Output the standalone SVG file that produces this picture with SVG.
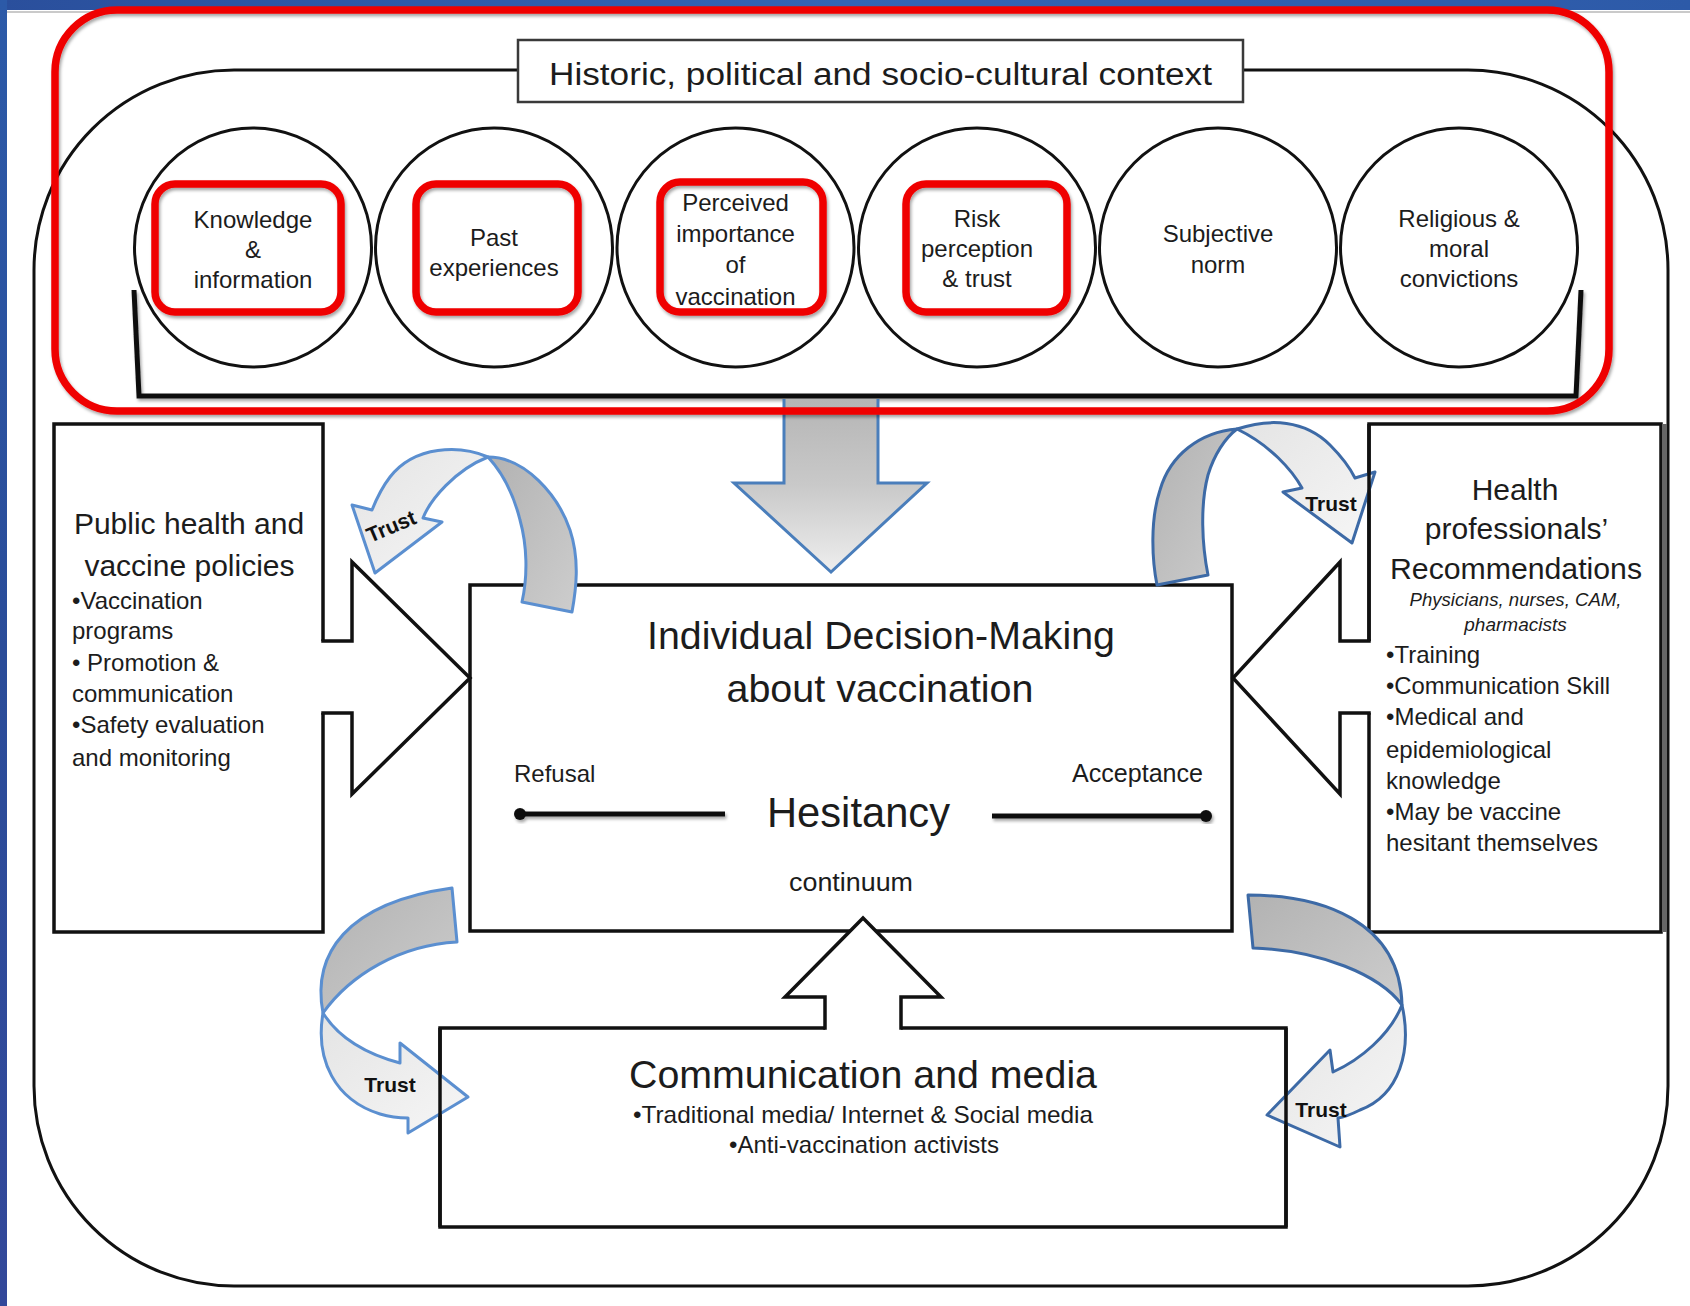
<svg xmlns="http://www.w3.org/2000/svg" width="1690" height="1306" viewBox="0 0 1690 1306">
<defs>
<style>
.t{font-family:'Liberation Sans',Arial,Helvetica,sans-serif;fill:#1c1c1c}
.m{text-anchor:middle}
.s24{font-size:24px}
.s30{font-size:30px}
.s39{font-size:39px}
.box{fill:#fff;stroke:#111;stroke-width:3.5}
.edge{fill:none;stroke:#111;stroke-width:3.5}
.circ{fill:#fff;stroke:#111;stroke-width:3}
.hl{fill:none;stroke:#ef0000;stroke-width:7.5;filter:url(#sh)}
.blk{fill:none;stroke:#111;stroke-width:3.5;stroke-linejoin:miter;stroke-linecap:square}
.wf{fill:#fff;stroke:none}
.trA{stroke:#5b8fd0;stroke-width:3;stroke-linejoin:round}
.trB{stroke:#3d6aa6;stroke-width:3;stroke-linejoin:round}
.dk{fill:url(#gDark)}
.lt{fill:url(#gLight)}
.trust{font-family:'Liberation Sans',Arial,Helvetica,sans-serif;font-weight:bold;font-size:21px;fill:#111;text-anchor:middle}
</style>
<linearGradient id="gDark" x1="0" y1="0" x2="1" y2="1">
<stop offset="0" stop-color="#b2b2b2"/><stop offset="1" stop-color="#cdcdcd"/>
</linearGradient>
<linearGradient id="gLight" x1="0" y1="0" x2="1" y2="1">
<stop offset="0" stop-color="#e4e4e4"/><stop offset="1" stop-color="#f6f6f6"/>
</linearGradient>
<linearGradient id="gDown" x1="0" y1="0" x2="0" y2="1">
<stop offset="0" stop-color="#b5b5b5"/><stop offset="0.5" stop-color="#c9c9c9"/><stop offset="1" stop-color="#eeeeee"/>
</linearGradient>
<linearGradient id="gBandH" x1="0" y1="0" x2="1" y2="0">
<stop offset="0" stop-color="#2a4f9c"/><stop offset="0.5" stop-color="#3465b5"/><stop offset="1" stop-color="#2d5aa8"/>
</linearGradient>
<linearGradient id="gBandV" x1="0" y1="0" x2="0" y2="1">
<stop offset="0" stop-color="#2c5aa8"/><stop offset="0.5" stop-color="#2a4c99"/><stop offset="1" stop-color="#33489a"/>
</linearGradient>
<filter id="sh" x="-5%" y="-5%" width="110%" height="115%">
<feDropShadow dx="1.5" dy="2.5" stdDeviation="1.5" flood-color="#000" flood-opacity="0.35"/>
</filter>
</defs>

<g id="background">
<rect x="0" y="0" width="1690" height="1306" fill="#fff"/>
<rect x="0" y="0" width="1690" height="10" fill="url(#gBandH)"/>
<rect x="0" y="0" width="7" height="1306" fill="url(#gBandV)"/>
<line x1="7" y1="12" x2="1690" y2="12" stroke="#b8b8b8" stroke-width="1.5"/>
</g>

<g id="context-frame">
<rect x="34" y="70" width="1634" height="1216" rx="200" ry="200" fill="none" stroke="#111" stroke-width="3"/>
</g>

<g id="context-title">
<rect x="518" y="40" width="725" height="62" fill="#fff" stroke="#3a3a3a" stroke-width="2.5"/>
<text class="t m" x="880.5" y="85" font-size="31" textLength="663" lengthAdjust="spacingAndGlyphs">Historic, political and socio-cultural context</text>
</g>

<g id="factor-knowledge">
<ellipse class="circ" cx="253" cy="247.5" rx="118.5" ry="119.5"/>
<text class="t m s24" x="253" y="228">Knowledge</text>
<text class="t m s24" x="253" y="258">&amp;</text>
<text class="t m s24" x="253" y="288">information</text>
</g>
<g id="factor-past">
<ellipse class="circ" cx="494" cy="247.5" rx="118.5" ry="119.5"/>
<text class="t m s24" x="494" y="246">Past</text>
<text class="t m s24" x="494" y="276">experiences</text>
</g>
<g id="factor-importance">
<ellipse class="circ" cx="735.5" cy="247.5" rx="118.5" ry="119.5"/>
<text class="t m s24" x="735.5" y="211">Perceived</text>
<text class="t m s24" x="735.5" y="241.5">importance</text>
<text class="t m s24" x="735.5" y="272.5">of</text>
<text class="t m s24" x="735.5" y="304.5">vaccination</text>
</g>
<g id="factor-risk">
<ellipse class="circ" cx="977" cy="247.5" rx="118.5" ry="119.5"/>
<text class="t m s24" x="977" y="227">Risk</text>
<text class="t m s24" x="977" y="257">perception</text>
<text class="t m s24" x="977" y="287">&amp; trust</text>
</g>
<g id="factor-norm">
<ellipse class="circ" cx="1218" cy="247.5" rx="118.5" ry="119.5"/>
<text class="t m s24" x="1218" y="242">Subjective</text>
<text class="t m s24" x="1218" y="272.5">norm</text>
</g>
<g id="factor-religious">
<ellipse class="circ" cx="1459" cy="247.5" rx="118.5" ry="119.5"/>
<text class="t m s24" x="1459" y="227">Religious &amp;</text>
<text class="t m s24" x="1459" y="257">moral</text>
<text class="t m s24" x="1459" y="287">convictions</text>
</g>

<g id="context-bracket">
<path d="M134,290 L139,396 L1576,396 L1581,290" fill="none" stroke="#111" stroke-width="5" filter="url(#sh)"/>
</g>

<g id="policies">
<rect class="box" x="54" y="424" width="269" height="508"/>
<text class="t m s30" x="189" y="534">Public health and</text>
<text class="t m s30" x="189.5" y="576">vaccine policies</text>
<text class="t s24" x="72" y="609">•Vaccination</text>
<text class="t s24" x="72" y="639">programs</text>
<text class="t s24" x="72" y="671">• Promotion &amp;</text>
<text class="t s24" x="72" y="702">communication</text>
<text class="t s24" x="72" y="733">•Safety evaluation</text>
<text class="t s24" x="72" y="766">and monitoring</text>
</g>

<g id="professionals">
<rect class="box" x="1369" y="424" width="292" height="508"/>
<rect x="1662" y="424" width="5" height="508" fill="#666"/>
<text class="t m s30" x="1515" y="500">Health</text>
<text class="t m s30" x="1516.5" y="539">professionals’</text>
<text class="t m s30" x="1516" y="579" textLength="252" lengthAdjust="spacingAndGlyphs">Recommendations</text>
<text class="t m" x="1515.5" y="606" font-size="19" font-style="italic" textLength="212" lengthAdjust="spacingAndGlyphs">Physicians, nurses, CAM,</text>
<text class="t m" x="1515.5" y="631" font-size="19" font-style="italic">pharmacists</text>
<text class="t s24" x="1386" y="663">•Training</text>
<text class="t s24" x="1386" y="694" textLength="224" lengthAdjust="spacingAndGlyphs">•Communication Skill</text>
<text class="t s24" x="1386" y="725">•Medical and</text>
<text class="t s24" x="1386" y="758">epidemiological</text>
<text class="t s24" x="1386" y="789">knowledge</text>
<text class="t s24" x="1386" y="820">•May be vaccine</text>
<text class="t s24" x="1386" y="851">hesitant themselves</text>
</g>

<g id="decision">
<rect class="box" x="470" y="585" width="762" height="346"/>
<text class="t m s39" x="881" y="649" textLength="468" lengthAdjust="spacingAndGlyphs">Individual Decision-Making</text>
<text class="t m s39" x="880" y="702" textLength="307" lengthAdjust="spacingAndGlyphs">about vaccination</text>
<text class="t s24" x="514" y="782">Refusal</text>
<text class="t" x="1072" y="782" font-size="25" textLength="131" lengthAdjust="spacingAndGlyphs">Acceptance</text>
<text class="t m" x="858.5" y="827" font-size="42" textLength="183" lengthAdjust="spacingAndGlyphs">Hesitancy</text>
<text class="t m" x="851" y="891" font-size="26" textLength="124" lengthAdjust="spacingAndGlyphs">continuum</text>
<g filter="url(#sh)">
<line x1="520" y1="814" x2="725" y2="814" stroke="#111" stroke-width="5"/>
<circle cx="520" cy="814" r="6" fill="#111"/>
<line x1="992" y1="816" x2="1206" y2="816" stroke="#111" stroke-width="5"/>
<circle cx="1206" cy="816" r="6" fill="#111"/>
</g>
</g>

<g id="media">
<rect class="box" x="440" y="1028" width="846" height="199"/>
<text class="t m s39" x="863" y="1088" textLength="468" lengthAdjust="spacingAndGlyphs">Communication and media</text>
<text class="t s24" x="633" y="1123" textLength="460" lengthAdjust="spacingAndGlyphs">•Traditional media/ Internet &amp; Social media</text>
<text class="t s24" x="729" y="1153" textLength="270" lengthAdjust="spacingAndGlyphs">•Anti-vaccination activists</text>
</g>

<g id="connectors">
<!-- context influences decision (down arrow) -->
<path d="M784,399 L784,483 L734,483 L831,572 L927,483 L878,483 L878,399" fill="url(#gDown)" stroke="#4a7ebb" stroke-width="3" stroke-linejoin="miter"/>
<!-- policies to decision -->
<path class="wf" d="M319,641 L352,641 L352,562 L470,678 L352,794 L352,713 L319,713 Z"/>
<path class="blk" d="M323,641 L352,641 L352,562 L470,678 L352,794 L352,713 L323,713"/>
<!-- professionals to decision -->
<path class="wf" d="M1373,641 L1340,641 L1340,562 L1233,678 L1340,794 L1340,713 L1373,713 Z"/>
<path class="blk" d="M1369,641 L1340,641 L1340,562 L1233,678 L1340,794 L1340,713 L1369,713"/>
<!-- media to decision -->
<path class="wf" d="M825,1032 L825,997 L785,997 L863,918 L941,997 L901,997 L901,1032 Z"/>
<path class="blk" d="M825,1028 L825,997 L785,997 L863,918 L941,997 L901,997 L901,1028"/>

<!-- Trust arrow A: decision to policies -->
<path class="dk trA" d="M488,457 C525,457 558,495 570,530 C580,560 576,590 572,612 L522,602 C528,575 527,545 520,520 C513,492 500,470 488,457 Z"/>
<path class="lt trA" d="M488,457 C460,445 415,445 390,477 Q380,490 372,510 L352,505 L375,573 L442,522 L423,518 C430,500 455,470 488,457 Z"/>
<text class="trust" x="394" y="533" transform="rotate(-23 394 533)">Trust</text>

<!-- Trust arrow B: decision to professionals -->
<path class="dk trB" d="M1237,429 C1200,432 1170,455 1160,490 C1150,520 1152,560 1157,585 L1208,575 C1202,545 1200,505 1208,475 C1214,455 1225,438 1237,429 Z"/>
<path class="lt trB" d="M1237,429 C1270,418 1305,420 1330,445 C1342,457 1350,468 1355,478 L1375,472 L1352,543 L1283,492 L1302,488 C1292,470 1270,445 1237,429 Z"/>
<text class="trust" x="1331" y="511">Trust</text>

<!-- Trust arrow C: decision to media -->
<path class="dk trA" d="M323,1013 C312,955 345,903 452,888 L457,942 C400,945 350,975 323,1013 Z"/>
<path class="lt trA" d="M323,1013 C315,1060 335,1100 380,1114 C390,1117 400,1118 408,1118 L408,1133 L468,1097 L400,1043 L400,1063 C370,1055 340,1040 323,1013 Z"/>
<text class="trust" x="390" y="1092">Trust</text>

<!-- Trust arrow D: decision to media -->
<path class="dk trB" d="M1248,895 C1320,895 1400,920 1402,1005 C1380,975 1320,950 1253,948 Z"/>
<path class="lt trB" d="M1402,1005 C1412,1050 1400,1095 1360,1110 C1352,1114 1345,1117 1338,1118 L1340,1147 L1267,1115 L1330,1050 L1333,1072 C1360,1060 1390,1035 1402,1005 Z"/>
<text class="trust" x="1321" y="1117">Trust</text>
</g>

<g id="box-edges">
<line class="edge" x1="1369" y1="424" x2="1369" y2="641"/>
<line class="edge" x1="440" y1="1028" x2="440" y2="1227"/>
<line class="edge" x1="1286" y1="1028" x2="1286" y2="1227"/>
</g>

<g id="highlights">
<rect class="hl" x="155" y="184" width="186" height="128" rx="20"/>
<rect class="hl" x="416" y="184" width="162" height="128" rx="20"/>
<rect class="hl" x="660" y="182" width="163" height="130" rx="20"/>
<rect class="hl" x="906" y="184" width="161" height="128" rx="20"/>
<rect class="hl" x="55" y="10" width="1554" height="401" rx="62"/>
</g>
</svg>
